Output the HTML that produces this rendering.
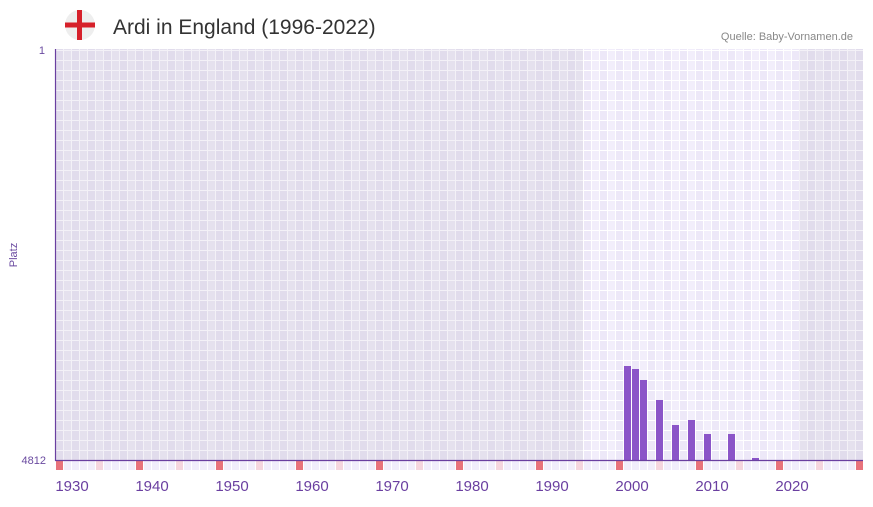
<!DOCTYPE html>
<html><head><style>
body{margin:0;background:#fff;width:873px;height:502px;overflow:hidden;font-family:"Liberation Sans",sans-serif}
</style></head><body>
<svg width="873" height="502" xmlns="http://www.w3.org/2000/svg">
<defs>
<pattern id="gd" x="55" y="50" width="16" height="10" patternUnits="userSpaceOnUse">
<rect width="16" height="10" fill="#f3f1f7"/>
<rect x="1" y="1" width="7" height="9" fill="#e1dcec"/>
<rect x="9" y="1" width="7" height="9" fill="#e5e1ee"/>
</pattern>
<pattern id="gl" x="55" y="50" width="16" height="10" patternUnits="userSpaceOnUse">
<rect width="16" height="10" fill="#ffffff"/>
<rect x="1" y="1" width="7" height="9" fill="#ede8f8"/>
<rect x="9" y="1" width="7" height="9" fill="#f2eefb"/>
</pattern>
<pattern id="st" x="55" y="461" width="8" height="10" patternUnits="userSpaceOnUse">
<rect x="1" width="7" height="10" fill="#f1edfb"/>
</pattern>
</defs>
<circle cx="80" cy="25" r="15" fill="#eeeeee"/>
<rect x="77" y="10" width="5" height="30" fill="#d6202a"/>
<rect x="65" y="22.5" width="30" height="5" fill="#d6202a"/>
<text x="113" y="34" font-size="21" fill="#333">Ardi in England (1996-2022)</text>
<text x="853" y="40" font-size="11" fill="#888" text-anchor="end">Quelle: Baby-Vornamen.de</text>
<rect x="55" y="49" width="528" height="411" fill="url(#gd)"/>
<rect x="583" y="49" width="216" height="411" fill="url(#gl)"/>
<rect x="799" y="49" width="64" height="411" fill="url(#gd)"/>
<rect x="55" y="461" width="808" height="9" fill="url(#st)"/>
<g fill="#e8737c">
<rect x="56" y="461" width="7" height="9"/><rect x="136" y="461" width="7" height="9"/><rect x="216" y="461" width="7" height="9"/><rect x="296" y="461" width="7" height="9"/><rect x="376" y="461" width="7" height="9"/><rect x="456" y="461" width="7" height="9"/><rect x="536" y="461" width="7" height="9"/><rect x="616" y="461" width="7" height="9"/><rect x="696" y="461" width="7" height="9"/><rect x="776" y="461" width="7" height="9"/><rect x="856" y="461" width="7" height="9"/>
</g>
<g fill="#f5d5de">
<rect x="96" y="461" width="7" height="9"/><rect x="176" y="461" width="7" height="9"/><rect x="256" y="461" width="7" height="9"/><rect x="336" y="461" width="7" height="9"/><rect x="416" y="461" width="7" height="9"/><rect x="496" y="461" width="7" height="9"/><rect x="576" y="461" width="7" height="9"/><rect x="656" y="461" width="7" height="9"/><rect x="736" y="461" width="7" height="9"/><rect x="816" y="461" width="7" height="9"/>
</g>
<g fill="#8b55c8">
<rect x="624" y="366" width="7" height="94"/><rect x="632" y="369" width="7" height="91"/><rect x="640" y="380" width="7" height="80"/><rect x="656" y="400" width="7" height="60"/><rect x="672" y="425" width="7" height="35"/><rect x="688" y="420" width="7" height="40"/><rect x="704" y="434" width="7" height="26"/><rect x="728" y="434" width="7" height="26"/><rect x="752" y="458" width="7" height="2"/>
</g>
<line x1="55.5" y1="49" x2="55.5" y2="461" stroke="#6a3fa0" stroke-width="1.2"/>
<line x1="55" y1="460.5" x2="863" y2="460.5" stroke="#6a3fa0" stroke-width="1.2"/>
<text x="45" y="54" font-size="11" fill="#6a4aa0" text-anchor="end">1</text>
<text x="46" y="464" font-size="11" fill="#6a4aa0" text-anchor="end">4812</text>
<text x="17" y="255" font-size="11" fill="#6a4aa0" text-anchor="middle" transform="rotate(-90 17 255)">Platz</text>
<g font-size="15" fill="#6a3fa0" text-anchor="middle">
<text x="72" y="491">1930</text><text x="152" y="491">1940</text><text x="232" y="491">1950</text><text x="312" y="491">1960</text><text x="392" y="491">1970</text><text x="472" y="491">1980</text><text x="552" y="491">1990</text><text x="632" y="491">2000</text><text x="712" y="491">2010</text><text x="792" y="491">2020</text>
</g>
</svg>
</body></html>
